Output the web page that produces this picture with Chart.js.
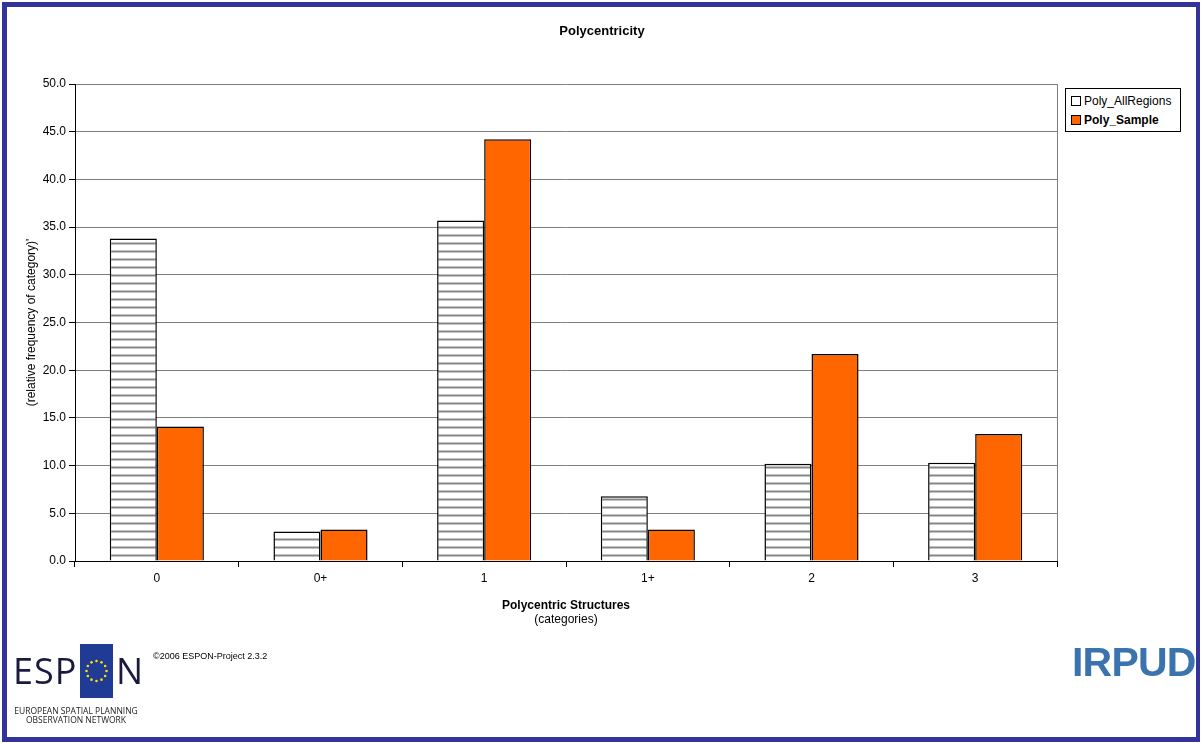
<!DOCTYPE html>
<html>
<head>
<meta charset="utf-8">
<script src="https://cdn.jsdelivr.net/npm/chart.js@4"></script>
<style>
  html, body { margin: 0; padding: 0; background: #fff; }
  body { width: 1201px; height: 743px; position: relative; overflow: hidden; font-family: "Liberation Sans", Arial, sans-serif; }
  #frame { position: absolute; left: 2px; top: 2px; width: 1198px; height: 740px; box-sizing: border-box; border: 5px solid #333399; border-right-width: 4px; pointer-events: none; }
  #wrap { position: absolute; left: 0; top: 0; width: 1201px; height: 743px; }
  #legend { position: absolute; left: 1065px; top: 88px; width: 116px; height: 44px; box-sizing: border-box; border: 1px solid #000; background: #fff; font-size: 12px; color: #000; }
  .li { position: absolute; left: 5px; height: 14px; line-height: 14px; white-space: nowrap; }
  .sw { display: inline-block; width: 8px; height: 8px; border: 1px solid #000; vertical-align: -1px; margin-right: 3px; }
  #copy { position: absolute; left: 153px; top: 651px; font-size: 9px; color: #000; }
  #espon { position: absolute; left: 13px; top: 644px; width: 140px; height: 85px; }
  #espon .t { position: absolute; top: 5px; font-family: "Open Sans", "Noto Sans", sans-serif; font-size: 36px; color: #1a1a40; letter-spacing: 1px; line-height: 44px; }
  #espon .flag { position: absolute; left: 67px; top: 0; width: 33px; height: 54px; background: #1f3b94; }
  #espon .sub { position: absolute; left: -2px; top: 62px; width: 130px; text-align: center; font-family: "Open Sans", "Noto Sans", sans-serif; font-size: 8.5px; line-height: 9px; color: #222; }
  #irpud { position: absolute; left: 1072px; top: 639px; font-family: "Liberation Sans", Arial, sans-serif; font-weight: bold; font-size: 41px; color: #3a73ad; letter-spacing: -0.8px; line-height: 46px; }
</style>
</head>
<body>
<div id="wrap"><canvas id="c" width="1201" height="743"></canvas></div>
<div id="legend"></div>
<div id="copy">©2006 ESPON-Project 2.3.2</div>
<div id="espon">
  <div class="t" style="left:0">ESP</div>
  <div class="flag"><canvas id="stars" width="33" height="54"></canvas></div>
  <div class="t" style="left:103px">N</div>
  <div class="sub">EUROPEAN SPATIAL PLANNING<br>OBSERVATION NETWORK</div>
</div>
<div id="irpud">IRPUD</div>
<div id="frame"></div>
<script>
// ---- data ----
const categories = ['0', '0+', '1', '1+', '2', '3'];
const seriesNames = ['Poly_AllRegions', 'Poly_Sample'];
const polyAllRegions = [33.8, 3.1, 35.7, 6.8, 10.2, 10.3];
const polySample = [14.1, 3.3, 44.2, 3.3, 21.7, 13.3];
const chartTitle = 'Polycentricity';
const xTitle = 'Polycentric Structures';
const xSubTitle = '(categories)';
const yTitle = "(relative frequency of category)'";

// ---- hatch pattern ----
function makeHatch() {
  const p = document.createElement('canvas');
  p.width = 8; p.height = 8;
  const g = p.getContext('2d');
  g.fillStyle = '#ffffff'; g.fillRect(0, 0, 8, 8);
  g.fillStyle = '#858585'; g.fillRect(0, 3, 8, 1);
  g.fillStyle = '#c4c4c4'; g.fillRect(0, 2, 8, 1); g.fillRect(0, 4, 8, 1);
  return document.getElementById('c').getContext('2d').createPattern(p, 'repeat');
}
const hatch = makeHatch();
const sampleColor = '#ff6600';

// ---- stars ----
(function () {
  const s = document.getElementById('stars').getContext('2d');
  s.fillStyle = '#ffdd00';
  for (let i = 0; i < 12; i++) {
    const a = i * Math.PI / 6;
    s.beginPath();
    s.arc(16.5 + 10 * Math.cos(a), 27 + 10 * Math.sin(a), 1.3, 0, 2 * Math.PI);
    s.fill();
  }
})();

// ---- legend ----
(function () {
  const L = document.getElementById('legend');
  const fills = ['#ffffff', sampleColor];
  seriesNames.forEach((n, i) => {
    const d = document.createElement('div');
    d.className = 'li';
    d.style.top = (5 + i * 19) + 'px';
    if (i === 1) d.style.fontWeight = 'bold';
    d.innerHTML = '<span class="sw" style="background:' + fills[i] + '"></span>' + n;
    L.appendChild(d);
  });
})();

const F = "'Liberation Sans', Arial, sans-serif";

const framePlugin = {
  id: 'framePlugin',
  afterDraw(chart) {
    const ctx = chart.ctx, a = chart.chartArea;
    ctx.save();
    ctx.strokeStyle = '#808080'; ctx.lineWidth = 1;
    ctx.beginPath();
    ctx.moveTo(Math.round(a.right) + 0.5, a.top);
    ctx.lineTo(Math.round(a.right) + 0.5, a.bottom);
    ctx.stroke();
    ctx.fillStyle = '#000';
    ctx.textAlign = 'center';
    ctx.textBaseline = 'middle';
    ctx.font = 'bold 13px ' + F;
    ctx.fillText(chartTitle, 602, 31);
    ctx.font = '12px ' + F;
    ctx.fillText(xSubTitle, (a.left + a.right) / 2, 620);
    ctx.restore();
  }
};

new Chart(document.getElementById('c'), {
  type: 'bar',
  data: {
    labels: categories,
    datasets: [
      { label: seriesNames[0], data: polyAllRegions, backgroundColor: hatch, borderColor: '#000', borderWidth: 1.5 },
      { label: seriesNames[1], data: polySample, backgroundColor: sampleColor, borderColor: '#000', borderWidth: 1.5 }
    ]
  },
  options: {
    responsive: false,
    animation: false,
    devicePixelRatio: 1,
    layout: { padding: { left: 24, right: 144, top: 84, bottom: 130 } },
    categoryPercentage: 0.575,
    barPercentage: 1.0,
    plugins: {
      legend: { display: false },
      tooltip: { enabled: false },
      title: { display: false }
    },
    scales: {
      x: {
        grid: { display: true, drawOnChartArea: false, tickLength: 6, tickColor: '#000', offset: true },
        border: { color: '#000', width: 1 },
        ticks: { color: '#000', font: { family: F, size: 12 }, padding: 4 },
        title: { display: true, text: xTitle, color: '#000', font: { family: F, size: 12, weight: 'bold' }, padding: { top: 6, bottom: 0 } },
        afterFit(s) { s.height = 52; }
      },
      y: {
        min: 0, max: 50,
        ticks: { stepSize: 5, color: '#000', font: { family: F, size: 12 }, padding: 3, callback: v => Number(v).toFixed(1) },
        grid: { color: '#808080', lineWidth: 1, tickLength: 6, tickColor: '#000' },
        border: { color: '#000', width: 1 },
        title: { display: true, text: yTitle, color: '#000', font: { family: F, size: 12 }, padding: 0 },
        afterFit(s) { s.width = 51; }
      }
    }
  },
  plugins: [framePlugin]
});
</script>
</body>
</html>
